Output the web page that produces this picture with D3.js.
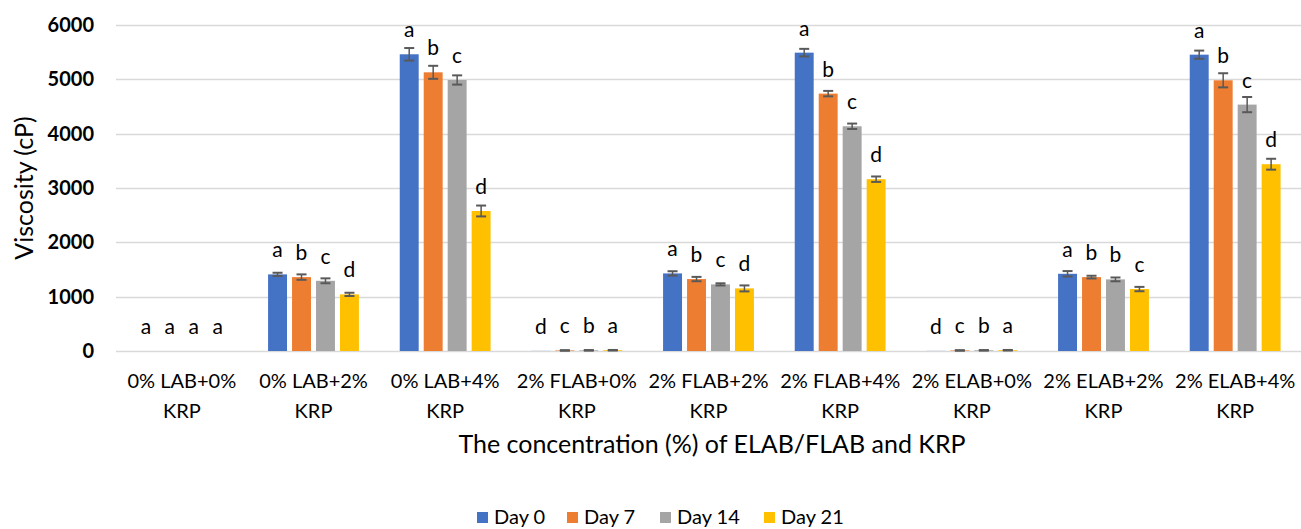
<!DOCTYPE html>
<html>
<head>
<meta charset="utf-8">
<script src="https://cdn.jsdelivr.net/npm/d3@7"></script>
<style>
  body { margin: 0; background: #fff; }
  text { font-family: Lato, "Open Sans", sans-serif; fill: #000; }
</style>
</head>
<body>
<div id="chart"></div>
<script>
// Data

var categories = [
  ["0% LAB+0%", "KRP"], ["0% LAB+2%", "KRP"], ["0% LAB+4%", "KRP"],
  ["2% FLAB+0%", "KRP"], ["2% FLAB+2%", "KRP"], ["2% FLAB+4%", "KRP"],
  ["2% ELAB+0%", "KRP"], ["2% ELAB+2%", "KRP"], ["2% ELAB+4%", "KRP"]
];
var seriesNames = ["Day 0", "Day 7", "Day 14", "Day 21"];
var colors = ["#4472C4", "#ED7D31", "#A5A5A5", "#FFC000"];

var day0  = [0, 1410, 5461, 2, 1428, 5491, 2, 1421, 5454];
var day7  = [0, 1360, 5129, 10, 1324, 4737, 10, 1360, 4982];
var day14 = [0, 1292, 4988, 12, 1226, 4136, 12, 1318, 4535];
var day21 = [0, 1042, 2577, 14, 1152, 3162, 14, 1140, 3438];

var err0  = [0, 30, 115, 0, 40, 70, 0, 50, 75];
var err7  = [0, 50, 120, 5, 40, 50, 5, 25, 130];
var err14 = [0, 45, 85, 5, 20, 50, 5, 35, 140];
var err21 = [0, 30, 100, 5, 55, 50, 5, 40, 100];

var let0  = ["a", "a", "a", "d", "a", "a", "d", "a", "a"];
var let7  = ["a", "b", "b", "c", "b", "b", "c", "b", "b"];
var let14 = ["a", "c", "c", "b", "c", "c", "b", "b", "c"];
var let21 = ["a", "d", "d", "a", "d", "d", "a", "c", "d"];

var yTicks = [0, 1000, 2000, 3000, 4000, 5000, 6000];

var values = [day0, day7, day14, day21];
var errors = [err0, err7, err14, err21];
var letters = [let0, let7, let14, let21];

// Build rows for drawing
var rows = [];
categories.forEach(function(c, i) {
  seriesNames.forEach(function(s, j) {
    rows.push({ cat: i, series: s, idx: j, value: values[j][i], err: errors[j][i], letter: letters[j][i] });
  });
});

// Dimensions

var width = 1301, height = 529;
var plotLeft = 116, plotRight = 1301, plotTop = 25, plotBottom = 351;

var svg = d3.select("#chart").append("svg")
  .attr("width", width)
  .attr("height", height);

var y = d3.scaleLinear().domain([0, 6000]).range([plotBottom, plotTop]);

var x0 = d3.scaleBand()
  .domain(d3.range(categories.length))
  .range([plotLeft, plotRight])
  .paddingInner(0.31)
  .paddingOuter(0.155);

var x1 = d3.scaleBand()
  .domain(seriesNames)
  .range([0, x0.bandwidth()])
  .paddingInner(0.21);

// Gridlines

svg.append("g")
  .selectAll("line")
  .data(yTicks)
  .enter().append("line")
  .attr("x1", plotLeft)
  .attr("x2", plotRight)
  .attr("y1", function(d) { return Math.round(y(d)) + 0.5; })
  .attr("y2", function(d) { return Math.round(y(d)) + 0.5; })
  .attr("stroke", "#d9d9d9")
  .attr("stroke-width", 1.5);

// Y axis labels

var yAxis = d3.axisLeft(y).tickValues(yTicks).tickFormat(d3.format("d")).tickSize(0).tickPadding(0);
var yg = svg.append("g")
  .attr("transform", "translate(94,0)")
  .call(yAxis);
yg.select(".domain").remove();
yg.selectAll("text")
  .style("font-family", "Lato, 'Open Sans', sans-serif")
  .style("font-size", "20px")
  .style("font-weight", "bold")
  .attr("fill", "#000");

svg.append("text")
  .attr("transform", "translate(33,188) rotate(-90)")
  .attr("text-anchor", "middle")
  .style("font-size", "25px")
  .text("Viscosity (cP)");

// Bars

var bars = svg.append("g")
  .selectAll("g")
  .data(rows)
  .enter().append("g")
  .attr("transform", function(d) { return "translate(" + (x0(d.cat) + x1(d.series)) + ",0)"; });

bars.append("rect")
  .attr("x", 0)
  .attr("width", x1.bandwidth())
  .attr("y", function(d) { return y(d.value); })
  .attr("height", function(d) { return plotBottom - y(d.value); })
  .attr("fill", function(d) { return colors[d.idx]; });

// Error bars

var eb = bars.filter(function(d) { return d.err > 0; });
var cx = x1.bandwidth() / 2;

eb.append("line")
  .attr("x1", cx).attr("x2", cx)
  .attr("y1", function(d) { return y(d.value + d.err); })
  .attr("y2", function(d) { return y(d.value - d.err); })
  .attr("stroke", "#595959").attr("stroke-width", 1.5);

eb.append("line")
  .attr("x1", cx - 5).attr("x2", cx + 5)
  .attr("y1", function(d) { return y(d.value + d.err); })
  .attr("y2", function(d) { return y(d.value + d.err); })
  .attr("stroke", "#595959").attr("stroke-width", 2);

eb.append("line")
  .attr("x1", cx - 5).attr("x2", cx + 5)
  .attr("y1", function(d) { return y(d.value - d.err); })
  .attr("y2", function(d) { return y(d.value - d.err); })
  .attr("stroke", "#595959").attr("stroke-width", 2);

// Letters

bars.append("text")
  .attr("x", cx)
  .attr("y", function(d) { return y(d.value) - 17; })
  .attr("text-anchor", "middle")
  .style("font-size", "21px")
  .text(function(d) { return d.letter; });

// X labels

var xl = svg.append("g")
  .selectAll("text")
  .data(categories)
  .enter().append("text")
  .attr("text-anchor", "middle")
  .style("font-size", "20px")
  .attr("transform", function(d, i) { return "translate(" + (x0(i) + x0.bandwidth() / 2) + ",0)"; });

xl.append("tspan").attr("x", 0).attr("y", 388).text(function(d) { return d[0]; });
xl.append("tspan").attr("x", 0).attr("y", 418).text(function(d) { return d[1]; });

svg.append("text")
  .attr("x", 712)
  .attr("y", 453)
  .attr("text-anchor", "middle")
  .style("font-size", "25px")
  .text("The concentration (%) of ELAB/FLAB and KRP");

// Legend

var legendX = [477, 567, 660, 764];
var legend = svg.append("g")
  .selectAll("g")
  .data(seriesNames)
  .enter().append("g")
  .attr("transform", function(d, i) { return "translate(" + legendX[i] + ",512)"; });

legend.append("rect")
  .attr("width", 11).attr("height", 11)
  .attr("fill", function(d, i) { return colors[i]; });

legend.append("text")
  .attr("x", 17).attr("y", 12)
  .style("font-size", "20px")
  .text(function(d) { return d; });
</script>
</body>
</html>
